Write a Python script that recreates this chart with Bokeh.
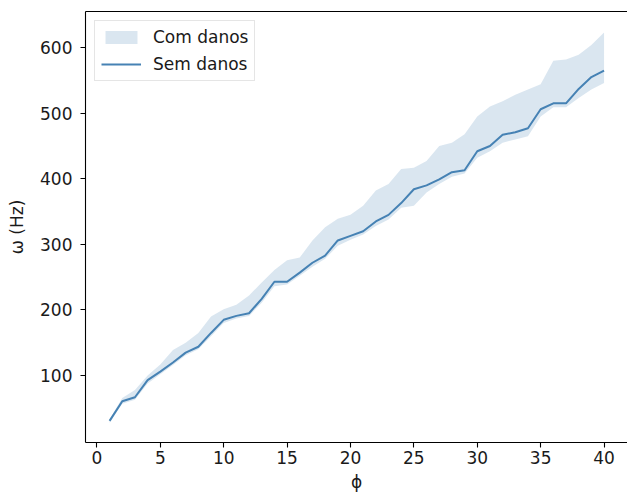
from bokeh.plotting import figure
from bokeh.models import Range1d, LinearAxis, FixedTicker, Legend, LegendItem, ColumnDataSource
from bokeh.embed import file_html
from bokeh.resources import INLINE

# ---- data ----
phi = list(range(1, 41))
sem_danos = [31, 61, 67, 93, 106, 120, 135, 144, 165, 185,
             191, 195, 217, 243, 243, 257, 272, 283, 306, 313,
             320, 335, 345, 363, 384, 390, 399, 410, 413, 442,
             450, 467, 471, 477, 506, 515, 515, 537, 555, 565]
com_danos_upper = [33, 66, 78, 100, 117, 139, 150, 165, 190, 201,
                   208, 222, 242, 261, 276, 280, 306, 326, 339, 345,
                   359, 382, 392, 415, 417, 427, 450, 455, 468, 495,
                   510, 518, 528, 536, 544, 580, 582, 589, 604, 623]
com_danos_lower = [28, 57, 63, 88, 102, 116, 131, 140, 160, 180,
                   187, 191, 211, 236, 239, 252, 266, 278, 298, 307,
                   315, 328, 338, 356, 359, 379, 392, 403, 408, 432,
                   442, 455, 460, 465, 495, 509, 509, 523, 536, 546]
x_ticks = [0, 5, 10, 15, 20, 25, 30, 35, 40]
y_ticks = [100, 200, 300, 400, 500, 600]

FONT = "DejaVu Sans"
FS = "17px"
BLUE = "#4682b4"

src = ColumnDataSource(dict(x=phi, y=sem_danos, lo=com_danos_lower, hi=com_danos_upper))

p = figure(width=627, height=495, output_backend="svg", toolbar_location=None,
           x_range=Range1d(-0.9, 41.85), y_range=Range1d(-2, 655),
           min_border_left=85, min_border_right=0, min_border_top=11, min_border_bottom=53)
p.xaxis.visible = False
p.yaxis.visible = False
p.grid.visible = False
p.outline_line_color = None
p.background_fill_color = "white"
p.border_fill_color = "white"

band = p.varea(x="x", y1="lo", y2="hi", source=src, fill_color=BLUE, fill_alpha=0.2)
line = p.line(x="x", y="y", source=src, line_color=BLUE, line_width=2)

def style(ax):
    ax.axis_line_color = "black"
    ax.axis_line_width = 1.1
    ax.major_tick_line_color = "black"
    ax.major_tick_line_width = 1.1
    ax.major_tick_out = 5
    ax.major_tick_in = 0
    ax.minor_tick_line_color = None
    ax.major_label_text_font = FONT
    ax.major_label_text_font_size = FS
    ax.major_label_text_color = "#1a1a1a"
    ax.axis_label_text_font = FONT
    ax.axis_label_text_font_size = FS
    ax.axis_label_text_font_style = "normal"
    ax.axis_label_text_color = "#1a1a1a"

xa = LinearAxis(ticker=FixedTicker(ticks=x_ticks), axis_label="ϕ")
style(xa)
xa.major_label_standoff = 3
xa.axis_label_standoff = 5
p.add_layout(xa, "below")

ya = LinearAxis(ticker=FixedTicker(ticks=y_ticks), axis_label="ω (Hz)")
style(ya)
ya.major_label_standoff = 8
ya.axis_label_standoff = 10
p.add_layout(ya, "left")

top = LinearAxis(ticker=FixedTicker(ticks=[]))
top.axis_line_color = "black"
top.axis_line_width = 1.1
top.major_tick_line_color = None
top.minor_tick_line_color = None
top.major_label_text_font_size = "0px"
p.add_layout(top, "above")

legend = Legend(items=[LegendItem(label="Com danos", renderers=[band]),
                       LegendItem(label="Sem danos", renderers=[line])],
                location="top_left")
legend.margin = 9
legend.padding = 6
legend.spacing = 7
legend.glyph_width = 40
legend.glyph_height = 16
legend.label_height = 20
legend.label_standoff = 12
legend.label_text_font = FONT
legend.label_text_font_size = FS
legend.label_text_color = "#1a1a1a"
legend.border_line_color = "#cccccc"
legend.border_line_width = 1
legend.background_fill_alpha = 0.8
p.add_layout(legend)

open("out.html", "w").write(file_html(p, INLINE))
